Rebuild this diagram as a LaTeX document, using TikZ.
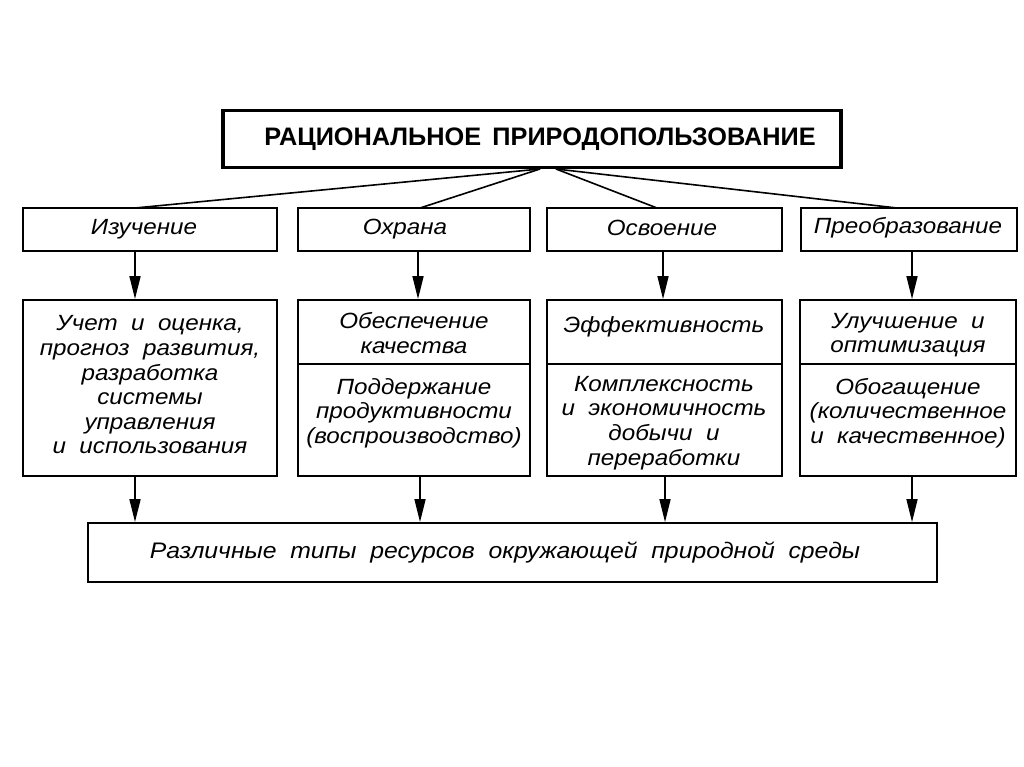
\documentclass[tikz,border=0pt]{standalone}
\usepackage{fontspec}
\setmainfont{Liberation Sans}
\newfontfamily\midfont[FakeStretch=1.1,WordSpace=1.8]{Liberation Sans}
\newfontfamily\botfont[FakeStretch=1.1,WordSpace=2.0]{Liberation Sans}
\newfontfamily\titlefont[WordSpace=1.6]{Liberation Sans}
\usetikzlibrary{arrows.meta}
\begin{document}
\begin{tikzpicture}[x=1pt,y=-1pt,
  box/.style={draw,line width=1.8pt,inner sep=0pt,rectangle},
  titlebox/.style={draw,line width=3.5pt,inner sep=0pt,rectangle},
  txt/.style={align=center,inner sep=0pt,font=\midfont\itshape\fontsize{22}{24.6}\selectfont},
  lbl/.style={align=center,inner sep=0pt,font=\midfont\itshape\fontsize{22}{24}\selectfont},
  fan/.style={line width=1.6pt},
  arr/.style={line width=1.6pt,-{Triangle[width=11pt,length=23pt]}}]
\useasboundingbox (0,0) rectangle (1024,767);
% title
\node[titlebox,minimum width=618,minimum height=57] (top) at (532,139) {};
\node[inner sep=0pt,font=\titlefont\bfseries\fontsize{25.3}{28}\selectfont] (toptxt) at (540,139) {РАЦИОНАЛЬНОЕ ПРИРОДОПОЛЬЗОВАНИЕ};
\coordinate (fanL) at (540,169);
\coordinate (fanR) at (556,169);
% label boxes
\node[box,minimum width=254,minimum height=43] (iz) at (150,229.5) {};
\node[box,minimum width=232,minimum height=43] (oh) at (414,229.5) {};
\node[box,minimum width=235,minimum height=43] (os) at (664.5,229.5) {};
\node[box,minimum width=216,minimum height=43] (pr) at (909,229.5) {};
\node[lbl] (izt) at (144,229.5) {Изучение};
\node[lbl] (oht) at (405,229.5) {Охрана};
\node[lbl] (ost) at (662,227.5) {Освоение};
\node[lbl] (prt) at (908,227.5) {Преобразование};
% fan lines
\coordinate (izin) at (135,208);
\coordinate (ohin) at (420,208);
\coordinate (osin) at (657,208);
\coordinate (prin) at (897,208);
\draw[fan] (fanL) -- (izin);
\draw[fan] (fanL) -- (ohin);
\draw[fan] (fanR) -- (osin);
\draw[fan] (fanR) -- (prin);
% middle boxes
\node[box,minimum width=254,minimum height=176] (m1) at (150,388) {};
\node[box,minimum width=232,minimum height=64] (m2a) at (414,332) {};
\node[box,minimum width=232,minimum height=112] (m2b) at (414,420) {};
\node[box,minimum width=235,minimum height=64] (m3a) at (664.5,332) {};
\node[box,minimum width=235,minimum height=112] (m3b) at (664.5,420) {};
\node[box,minimum width=216,minimum height=64] (m4a) at (908,332) {};
\node[box,minimum width=216,minimum height=112] (m4b) at (908,420) {};
\node[txt] (m1t) at (150,385) {Учет и оценка,\\прогноз развития,\\разработка\\системы\\управления\\и использования};
\node[txt] (m2at) at (414,333) {Обеспечение\\качества};
\node[txt] (m2bt) at (414,413) {Поддержание\\продуктивности\\(воспроизводство)};
\node[txt] (m3at) at (664,327) {Эффективность};
\node[txt] (m3bt) at (664,423) {Комплексность\\и экономичность\\добычи и\\переработки};
\node[txt] (m4at) at (908,335) {Улучшение и\\оптимизация};
\node[txt] (m4bt) at (908,413) {Обогащение\\(количественное\\и качественное)};
% bottom box
\node[box,minimum width=849,minimum height=59] (bot) at (512.5,552.5) {};
\node[inner sep=0pt,font=\botfont\itshape\fontsize{22.5}{24}\selectfont] (bott) at (505,553) {Различные типы ресурсов окружающей природной среды};
% arrows down
\draw[arr] (iz.south -| 135,0) -- (m1.north -| 135,0);
\draw[arr] (oh.south -| 418,0) -- (m2a.north -| 418,0);
\draw[arr] (os.south -| 663,0) -- (m3a.north -| 663,0);
\draw[arr] (pr.south -| 912,0) -- (m4a.north -| 912,0);
\draw[arr] (m1.south -| 135,0) -- (bot.north -| 135,0);
\draw[arr] (m2b.south -| 420,0) -- (bot.north -| 420,0);
\draw[arr] (m3b.south -| 665,0) -- (bot.north -| 665,0);
\draw[arr] (m4b.south -| 912,0) -- (bot.north -| 912,0);
\end{tikzpicture}
\end{document}
